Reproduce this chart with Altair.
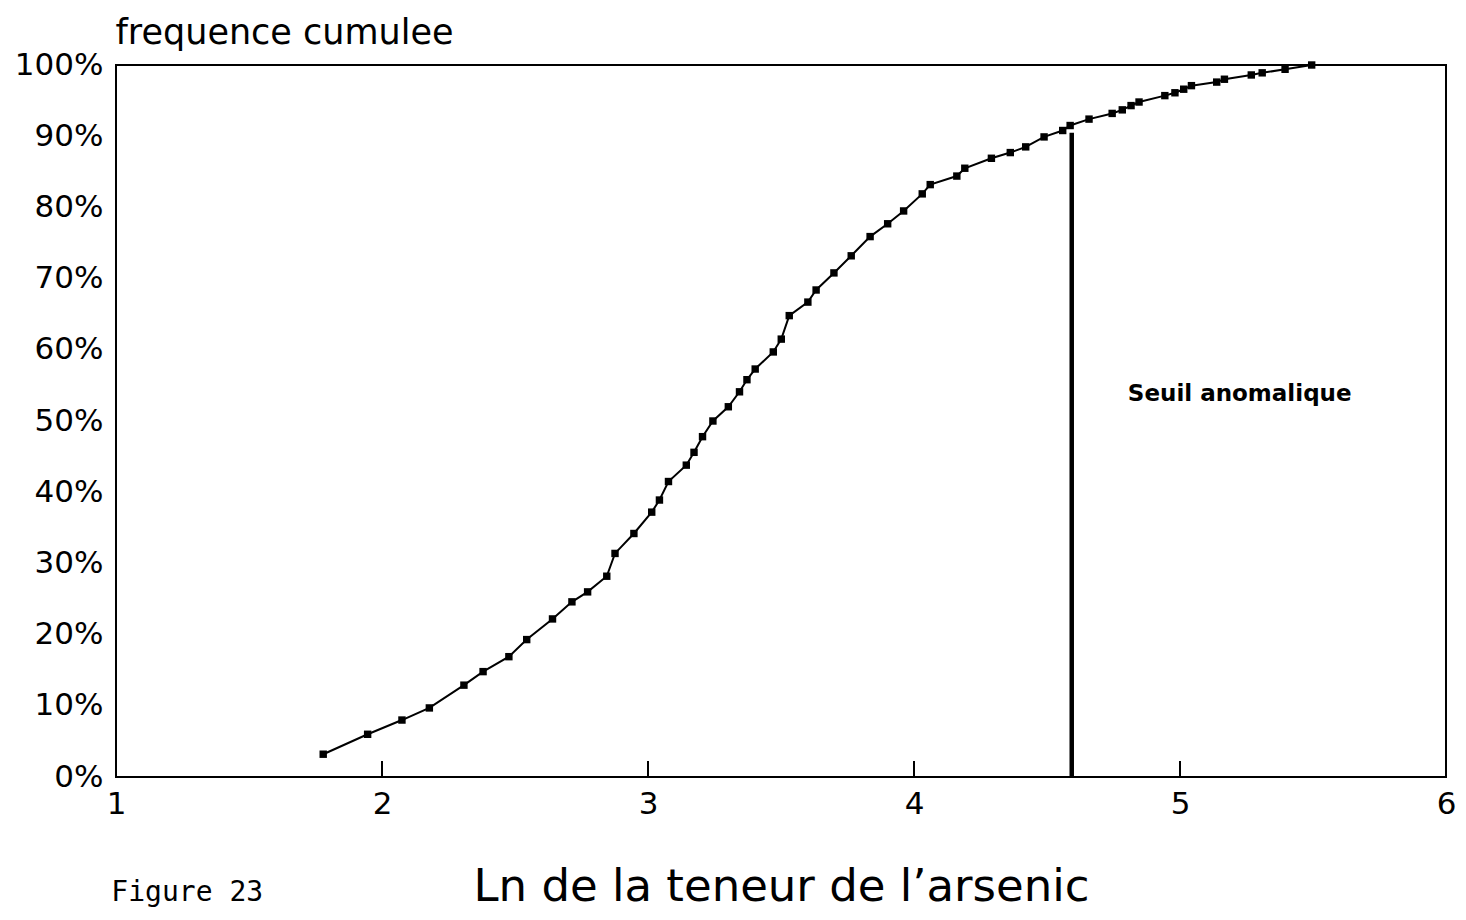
import altair as alt
import pandas as pd

# Ln of arsenic content (x) and cumulative frequency in % (y)
ln_teneur = [1.779, 1.946, 2.075, 2.178, 2.308, 2.380, 2.477, 2.544, 2.641, 2.714,
             2.773, 2.845, 2.876, 2.947, 3.014, 3.043, 3.077, 3.144, 3.173, 3.205,
             3.244, 3.302, 3.344, 3.372, 3.403, 3.471, 3.501, 3.531, 3.601, 3.632,
             3.699, 3.764, 3.835, 3.901, 3.961, 4.031, 4.061, 4.161, 4.191, 4.291,
             4.362, 4.420, 4.489, 4.559, 4.587, 4.658, 4.745, 4.783, 4.816, 4.846,
             4.943, 4.981, 5.014, 5.043, 5.138, 5.167, 5.268, 5.309, 5.395, 5.495]
freq_cum = [3.2, 6.0, 8.0, 9.7, 12.9, 14.8, 16.9, 19.3, 22.2, 24.6,
            26.0, 28.2, 31.4, 34.2, 37.2, 38.9, 41.5, 43.8, 45.6, 47.8,
            50.0, 52.0, 54.1, 55.8, 57.3, 59.7, 61.5, 64.8, 66.7, 68.4,
            70.8, 73.2, 75.9, 77.7, 79.5, 81.9, 83.2, 84.4, 85.5, 86.9,
            87.7, 88.5, 89.9, 90.8, 91.5, 92.4, 93.2, 93.7, 94.3, 94.8,
            95.7, 96.1, 96.6, 97.1, 97.6, 98.0, 98.6, 98.9, 99.4, 100.0]

x_ticks = [1, 2, 3, 4, 5, 6]
y_ticks = [0, 10, 20, 30, 40, 50, 60, 70, 80, 90, 100]

seuil_x = [4.593]
seuil_top = [90.5]
seuil_label = ["Seuil anomalique"]
seuil_label_x = [4.804]
seuil_label_y = [53.8]

W, H = 1330, 712

df = pd.DataFrame({"x": ln_teneur, "y": freq_cum})
ticks_df = pd.DataFrame({"t": x_ticks})
seuil_df = pd.DataFrame({"x": seuil_x, "y0": [0], "y1": seuil_top})
lab_df = pd.DataFrame({"x": seuil_label_x, "y": seuil_label_y, "t": seuil_label})

xscale = alt.Scale(domain=[1, 6], nice=False, zero=False)
yscale = alt.Scale(domain=[0, 100], nice=False)

x_axis = alt.Axis(
    values=x_ticks, format="d", grid=False, tickSize=0, domain=False,
    labelFont="DejaVu Sans", labelFontSize=31, labelColor="black",
    labelPadding=27, labelBaseline="middle", labelAngle=0, labelFlush=False,
    title="Ln de la teneur de l\u2019arsenic", titleFont="DejaVu Sans",
    titleFontSize=45, titleFontWeight="normal", titleColor="black",
    titleX=W / 2, titleY=123, titleAlign="center", titleBaseline="alphabetic",
)
y_axis = alt.Axis(
    values=y_ticks, labelExpr="datum.value + '%'", grid=False, tickSize=0, domain=False,
    labelFont="DejaVu Sans", labelFontSize=31, labelColor="black",
    labelPadding=13,
    title="frequence cumulee", titleFont="DejaVu Sans", titleFontSize=35,
    titleFontWeight="normal", titleColor="black", titleAngle=0,
    titleAlign="left", titleBaseline="middle", titleX=-1, titleY=-33,
)

line = alt.Chart(df).mark_line(color="black", strokeWidth=2).encode(
    x=alt.X("x:Q", scale=xscale, axis=x_axis),
    y=alt.Y("y:Q", scale=yscale, axis=y_axis),
)
pts = alt.Chart(df).mark_point(shape="square", filled=True, size=55, color="black", opacity=1).encode(
    x=alt.X("x:Q", scale=xscale),
    y=alt.Y("y:Q", scale=yscale),
)
tick_marks = alt.Chart(ticks_df).mark_rule(color="black", strokeWidth=2).encode(
    x=alt.X("t:Q", scale=xscale),
    y=alt.value(H),
    y2=alt.value(H - 16),
)
seuil = alt.Chart(seuil_df).mark_rule(color="black", strokeWidth=4.5).encode(
    x=alt.X("x:Q", scale=xscale),
    y=alt.Y("y0:Q", scale=yscale),
    y2="y1:Q",
)
lab = alt.Chart(lab_df).mark_text(
    align="left", baseline="middle", font="DejaVu Sans", fontSize=23,
    fontWeight="bold", color="black",
).encode(
    x=alt.X("x:Q", scale=xscale),
    y=alt.Y("y:Q", scale=yscale),
    text="t:N",
)

chart = alt.layer(tick_marks, seuil, line, pts, lab).properties(
    width=W, height=H,
    autosize=alt.AutoSizeParams(type="none"),
    padding={"left": 108, "top": 57, "right": 12, "bottom": 135},
    background="white",
    title=alt.TitleParams(
        "Figure 23", orient="bottom", anchor="start", font="DejaVu Sans Mono",
        fontSize=28, fontWeight="normal", color="black", offset=0, dy=-30, dx=97,
    ),
).configure_view(stroke="black", strokeWidth=2)

chart.save("out.html", embed_options={"renderer": "svg", "actions": False})
